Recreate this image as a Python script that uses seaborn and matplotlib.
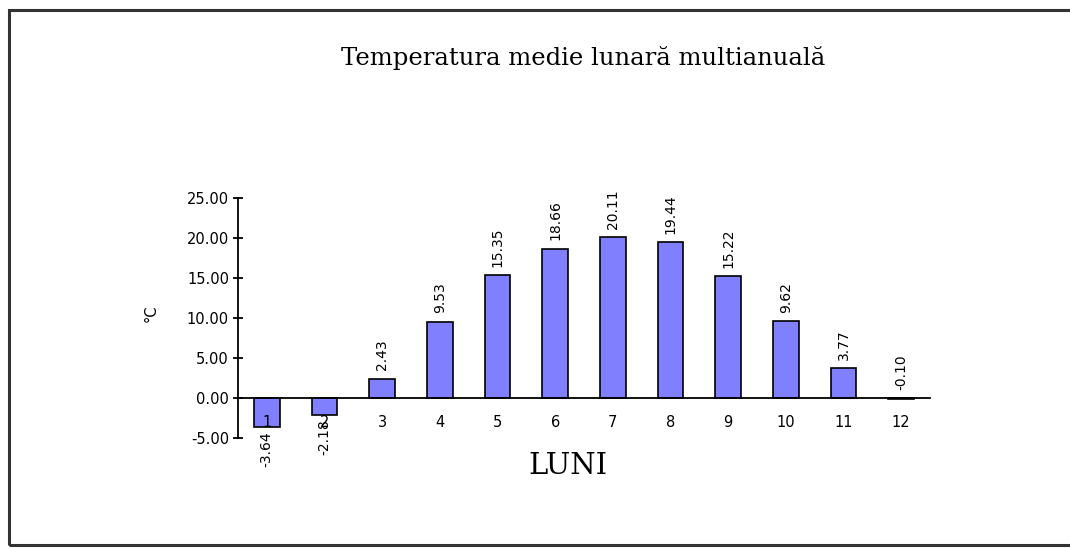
import matplotlib
matplotlib.use("Agg")
import matplotlib.pyplot as plt
from matplotlib.patches import Rectangle
from matplotlib.ticker import FixedLocator
import pandas as pd
import seaborn as sns

months = ["1", "2", "3", "4", "5", "6", "7", "8", "9", "10", "11", "12"]
temps = [-3.64, -2.18, 2.43, 9.53, 15.35, 18.66, 20.11, 19.44, 15.22, 9.62, 3.77, -0.10]
title = "Temperatura medie lunară multianuală"
xlabel = "LUNI"
ylabel = "°C"
yticks = [-5, 0, 5, 10, 15, 20, 25]

sns.set_style("white")
plt.rcParams["font.family"] = ["DejaVu Sans"]
plt.rcParams.update({"text.color": "black", "axes.labelcolor": "black",
                     "xtick.color": "black", "ytick.color": "black"})

df = pd.DataFrame({"luna": months, "temp": temps})

fig = plt.figure(figsize=(10.7, 5.49), dpi=100)
ax = fig.add_axes([238 / 1070, 111 / 549, 692 / 1070, 240 / 549])

sns.barplot(data=df, x="luna", y="temp", order=months, color="#8080FF",
            saturation=1, edgecolor="black", linewidth=1.2, width=0.45, ax=ax)

ax.set_xlim(-0.5, len(months) - 0.5)
ax.set_ylim(-5, 25)
ax.set_yticks(yticks)
ax.set_yticklabels([f"{t:.2f}" for t in yticks], fontsize=10.5)

for s in ["top", "right"]:
    ax.spines[s].set_visible(False)
ax.spines["bottom"].set_position(("data", 0))
for s in ["left", "bottom"]:
    ax.spines[s].set_color("black")
    ax.spines[s].set_linewidth(1.3)

ax.xaxis.set_minor_locator(FixedLocator([i + 0.5 for i in range(len(months))]))
ax.tick_params(axis="x", which="major", length=0, pad=12, labelsize=10.5)
ax.tick_params(axis="x", which="minor", direction="inout", length=9, width=1.3)
ax.tick_params(axis="y", which="major", direction="inout", length=7, width=1.3, left=True, pad=3)
ax.xaxis.set_zorder(10)

ax.set_xlabel("")
ax.set_ylabel(ylabel, fontsize=10.5)
ax.yaxis.set_label_coords(-0.115, 0.52)

for i, v in enumerate(temps):
    if v < -0.5:
        ax.annotate(f"{v:.2f}", xy=(i, v), xytext=(0, -3), textcoords="offset points",
                    rotation=90, ha="center", va="top", fontsize=10)
    else:
        ax.annotate(f"{v:.2f}", xy=(i, max(v, 0)), xytext=(0, 6), textcoords="offset points",
                    rotation=90, ha="center", va="bottom", fontsize=10)

fig.text(583 / 1070, 1 - 58 / 549, title, ha="center", va="center",
         fontsize=17.5, family="DejaVu Serif")
fig.text(568 / 1070, 1 - 466 / 549, xlabel, ha="center", va="center",
         fontsize=21, family="DejaVu Serif")

fig.add_artist(Rectangle((9 / 1070, 1 - 545 / 549), 1.2, 535 / 549,
                         transform=fig.transFigure, fill=False, lw=2.2,
                         edgecolor="#333333"))

fig.savefig("out.png", dpi=100)
